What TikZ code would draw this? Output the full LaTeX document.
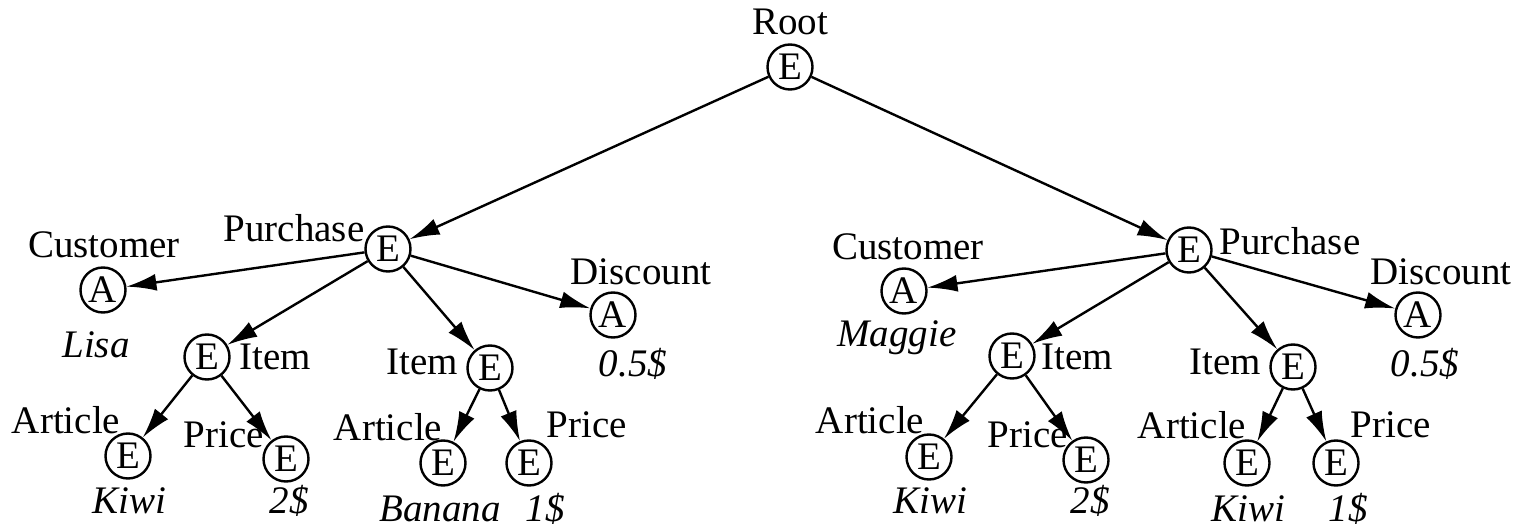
\documentclass[tikz,border=0pt]{standalone}
\usepackage{fontspec}
\setmainfont{Liberation Serif}
\usetikzlibrary{arrows.meta}
\begin{document}
\begin{tikzpicture}[x=0.5pt,y=-0.5pt,
  nd/.style={circle,draw,line width=1.2pt,minimum size=22.5pt,inner sep=0pt,font=\fontsize{19.5}{22}\selectfont},
  lbl/.style={inner sep=0pt,font=\fontsize{19.5}{22}\selectfont},
  val/.style={inner sep=0pt,font=\fontsize{19.5}{22}\selectfont\itshape},
  edge/.style={line width=1.2pt,-{Latex[length=15pt,width=8.5pt]}}]
\useasboundingbox (0,0) rectangle (1517,529);
% nodes
\node[nd] (root) at (790,67) {E};
\node[lbl] (rootl) at (790,22) {Root};
% left purchase
\node[nd] (p1) at (388,249) {E};
\node[lbl] (p1l) at (294,228) {Purchase};
\node[nd] (c1) at (103,290) {A};
\node[lbl] (c1l) at (104,245) {Customer};
\node[val] (c1v) at (96,345) {Lisa};
\node[nd] (i1) at (207,357) {E};
\node[lbl] (i1l) at (275,357) {Item};
\node[nd] (i2) at (490,368) {E};
\node[lbl] (i2l) at (422,362) {Item};
\node[nd] (d1) at (613,315) {A};
\node[lbl] (d1l) at (641,272) {Discount};
\node[val] (d1v) at (633,364) {0.5\$};
\node[nd] (a1) at (128,456) {E};
\node[lbl] (a1l) at (66,420) {Article};
\node[val,anchor=base] (a1v) at (129,514) {Kiwi};
\node[nd] (pr1) at (286,459) {E};
\node[lbl] (pr1l) at (224,435) {Price};
\node[val,anchor=base] (pr1v) at (289,514) {2\$};
\node[nd] (a2) at (443,463) {E};
\node[lbl] (a2l) at (388,427) {Article};
\node[val,anchor=base] (a2v) at (440,522) {Banana};
\node[nd] (pr2) at (529,463) {E};
\node[lbl] (pr2l) at (587,425) {Price};
\node[val,anchor=base] (pr2v) at (545,522) {1\$};
% right purchase
\node[nd] (p2) at (1189,250) {E};
\node[lbl] (p2l) at (1290,241) {Purchase};
\node[nd] (c2) at (904,291) {A};
\node[lbl] (c2l) at (908,247) {Customer};
\node[val] (c2v) at (897,338) {Maggie};
\node[nd] (i3) at (1012,356) {E};
\node[lbl] (i3l) at (1077,357) {Item};
\node[nd] (i4) at (1293,367) {E};
\node[lbl] (i4l) at (1225,362) {Item};
\node[nd] (d2) at (1418,315) {A};
\node[lbl] (d2l) at (1441,272) {Discount};
\node[val] (d2v) at (1425,364) {0.5\$};
\node[nd] (a3) at (929,457) {E};
\node[lbl] (a3l) at (870,420) {Article};
\node[val,anchor=base] (a3v) at (930,514) {Kiwi};
\node[nd] (pr3) at (1086,460) {E};
\node[lbl] (pr3l) at (1028,435) {Price};
\node[val,anchor=base] (pr3v) at (1090,514) {2\$};
\node[nd] (a4) at (1247,463) {E};
\node[lbl] (a4l) at (1192,425) {Article};
\node[val,anchor=base] (a4v) at (1248,522) {Kiwi};
\node[nd] (pr4) at (1336,463) {E};
\node[lbl] (pr4l) at (1391,425) {Price};
\node[val,anchor=base] (pr4v) at (1348,522) {1\$};
% edges
\foreach \a/\b in {root/p1,root/p2,p1/c1,p1/i1,p1/i2,p1/d1,i1/a1,i1/pr1,i2/a2,i2/pr2,
                   p2/c2,p2/i3,p2/i4,p2/d2,i3/a3,i3/pr3,i4/a4,i4/pr4}
  \draw[edge] (\a) -- (\b);
\end{tikzpicture}
\end{document}
